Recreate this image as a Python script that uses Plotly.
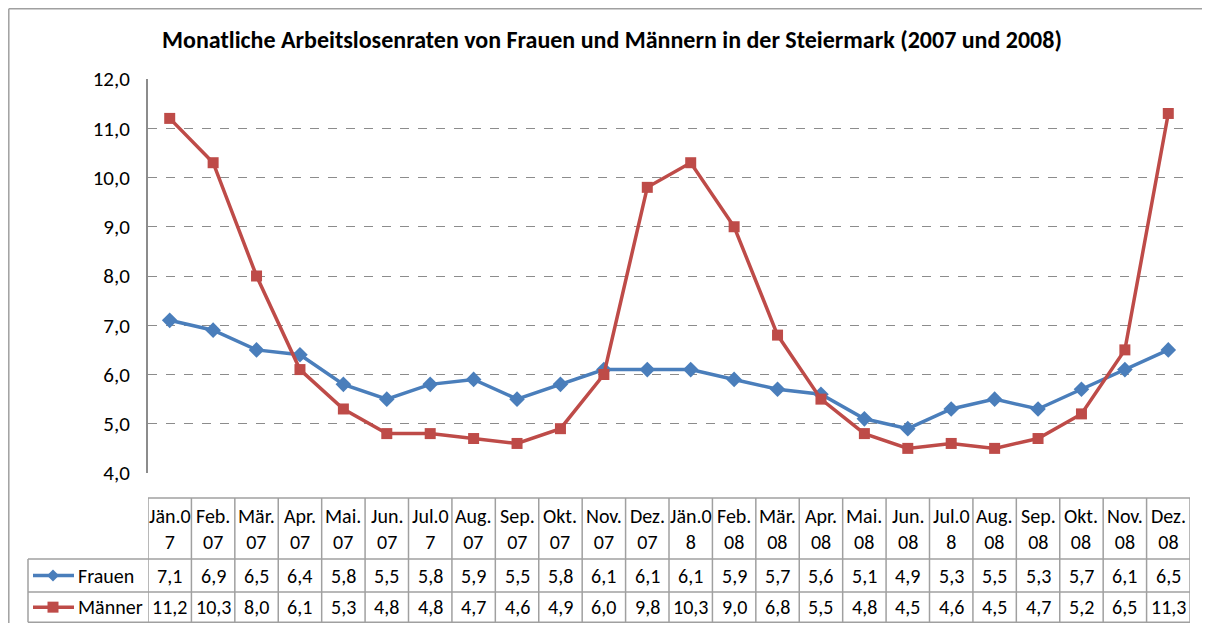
import plotly.graph_objects as go

months = ["Jän.0<br>7", "Feb.<br>07", "Mär.<br>07", "Apr.<br>07", "Mai.<br>07", "Jun.<br>07",
          "Jul.0<br>7", "Aug.<br>07", "Sep.<br>07", "Okt.<br>07", "Nov.<br>07", "Dez.<br>07",
          "Jän.0<br>8", "Feb.<br>08", "Mär.<br>08", "Apr.<br>08", "Mai.<br>08", "Jun.<br>08",
          "Jul.0<br>8", "Aug.<br>08", "Sep.<br>08", "Okt.<br>08", "Nov.<br>08", "Dez.<br>08"]
frauen = [7.1, 6.9, 6.5, 6.4, 5.8, 5.5, 5.8, 5.9, 5.5, 5.8, 6.1, 6.1,
          6.1, 5.9, 5.7, 5.6, 5.1, 4.9, 5.3, 5.5, 5.3, 5.7, 6.1, 6.5]
maenner = [11.2, 10.3, 8.0, 6.1, 5.3, 4.8, 4.8, 4.7, 4.6, 4.9, 6.0, 9.8,
           10.3, 9.0, 6.8, 5.5, 4.8, 4.5, 4.6, 4.5, 4.7, 5.2, 6.5, 11.3]
series_names = ["Frauen", "Männer"]
colors = ["#4A7EBB", "#BE4B48"]

OFF = 8  # default page margin of the html body
W, H = 1210 - 2 * OFF, 631 - 2 * OFF
ML, MR, MT, MB = 148 - OFF, W - (1190 - OFF), 79 - OFF, H - (473 - OFF)
PW, PH = W - ML - MR, H - MT - MB


def px(xpix):
    """window x pixel -> paper x"""
    return (xpix - OFF - ML) / PW


def py(ypix):
    """window y pixel -> paper y"""
    return (H - MB - (ypix - OFF)) / PH


FONT = "Carlito, Calibri, Lato, sans-serif"
n = len(months)
xs = list(range(n))

fig = go.Figure()
fig.add_trace(go.Scatter(x=xs, y=frauen, mode="lines+markers", name=series_names[0],
                         line=dict(color=colors[0], width=3.5),
                         marker=dict(symbol="diamond", size=12, color=colors[0])))
fig.add_trace(go.Scatter(x=xs, y=maenner, mode="lines+markers", name=series_names[1],
                         line=dict(color=colors[1], width=3.5),
                         marker=dict(symbol="square", size=11, color=colors[1])))

shapes = []
annotations = []
grid = "#A0A0A0"
y_top, y_head, y_r1, y_r2 = py(498), py(559), py(592), py(622.3)
x_leg = px(28)

# vertical table lines
for i in range(n + 1):
    shapes.append(dict(type="line", xref="x", yref="paper", x0=i - 0.5, x1=i - 0.5,
                       y0=y_top, y1=y_r2, line=dict(color=grid, width=1.5)))
# horizontal lines
shapes.append(dict(type="line", xref="x", yref="paper", x0=-0.5, x1=n - 0.5,
                   y0=y_top, y1=y_top, line=dict(color=grid, width=1.5)))
for yy in (y_head, y_r1, y_r2):
    shapes.append(dict(type="line", xref="paper", yref="paper", x0=x_leg, x1=1,
                       y0=yy, y1=yy, line=dict(color=grid, width=1.5)))
shapes.append(dict(type="line", xref="paper", yref="paper", x0=x_leg, x1=x_leg,
                   y0=y_head, y1=y_r2, line=dict(color=grid, width=1.5)))

# outer chart border (top and left edges only are visible)
shapes.append(dict(type="line", xref="paper", yref="paper", x0=px(8.8), x1=px(1202),
                   y0=py(8.8), y1=py(8.8), line=dict(color="#A0A0A0", width=1.5)))
shapes.append(dict(type="line", xref="paper", yref="paper", x0=px(8.8), x1=px(8.8),
                   y0=py(8.8), y1=py(623), line=dict(color="#A0A0A0", width=1.5)))

TF = dict(size=20, color="#000", family=FONT)
# header labels
for i, m in enumerate(months):
    annotations.append(dict(x=i, y=(y_top + y_head) / 2, xref="x", yref="paper",
                            text=m, showarrow=False, font=TF,
                            xanchor="center", yanchor="middle"))

rows = [(frauen, (y_head + y_r1) / 2), (maenner, (y_r1 + y_r2) / 2)]
for k, (vals, yc) in enumerate(rows):
    for i, v in enumerate(vals):
        annotations.append(dict(x=i, y=yc, xref="x", yref="paper",
                                text=f"{v:.1f}".replace(".", ","), showarrow=False,
                                font=TF, xanchor="center", yanchor="middle"))
    # legend key
    shapes.append(dict(type="line", xref="paper", yref="paper", x0=px(33), x1=px(74),
                       y0=yc, y1=yc, line=dict(color=colors[k], width=3.5)))
    cx = 53
    s = 6 if k == 0 else 5.5
    d = py(-s) - py(0)
    if k == 0:
        path = (f"M {px(cx - s)} {yc} L {px(cx)} {yc + d} "
                f"L {px(cx + s)} {yc} L {px(cx)} {yc - d} Z")
    else:
        path = (f"M {px(cx - s)} {yc - d} L {px(cx + s)} {yc - d} "
                f"L {px(cx + s)} {yc + d} L {px(cx - s)} {yc + d} Z")
    shapes.append(dict(type="path", xref="paper", yref="paper", path=path,
                       fillcolor=colors[k], line=dict(color=colors[k], width=0)))
    annotations.append(dict(x=px(76), y=yc, xref="paper", yref="paper",
                            text=series_names[k], showarrow=False, font=TF,
                            xanchor="left", yanchor="middle"))

fig.update_layout(
    width=W, height=H,
    margin=dict(l=ML, r=MR, t=MT, b=MB),
    paper_bgcolor="white", plot_bgcolor="white",
    separators=",.",
    showlegend=False,
    title=dict(text="<b>Monatliche Arbeitslosenraten von Frauen und Männern in der Steiermark (2007 und 2008)</b>",
               x=(612 - OFF) / W, xanchor="center", y=1 - (40 - OFF) / H, yanchor="middle",
               font=dict(size=24, color="#000", family=FONT)),
    xaxis=dict(range=[-0.5, n - 0.5], showticklabels=False, showgrid=False,
               zeroline=False, showline=False, ticks=""),
    yaxis=dict(range=[4, 12], dtick=1, tickformat=".1f", showgrid=True,
               gridcolor="#8C8C8C", griddash="dash", gridwidth=1,
               zeroline=False, showline=True, linecolor="#8C8C8C", linewidth=2,
               ticks="", ticklabelstandoff=12,
               tickfont=dict(size=21, color="#000", family=FONT)),
    shapes=shapes, annotations=annotations,
)

fig.write_html("out.html")
